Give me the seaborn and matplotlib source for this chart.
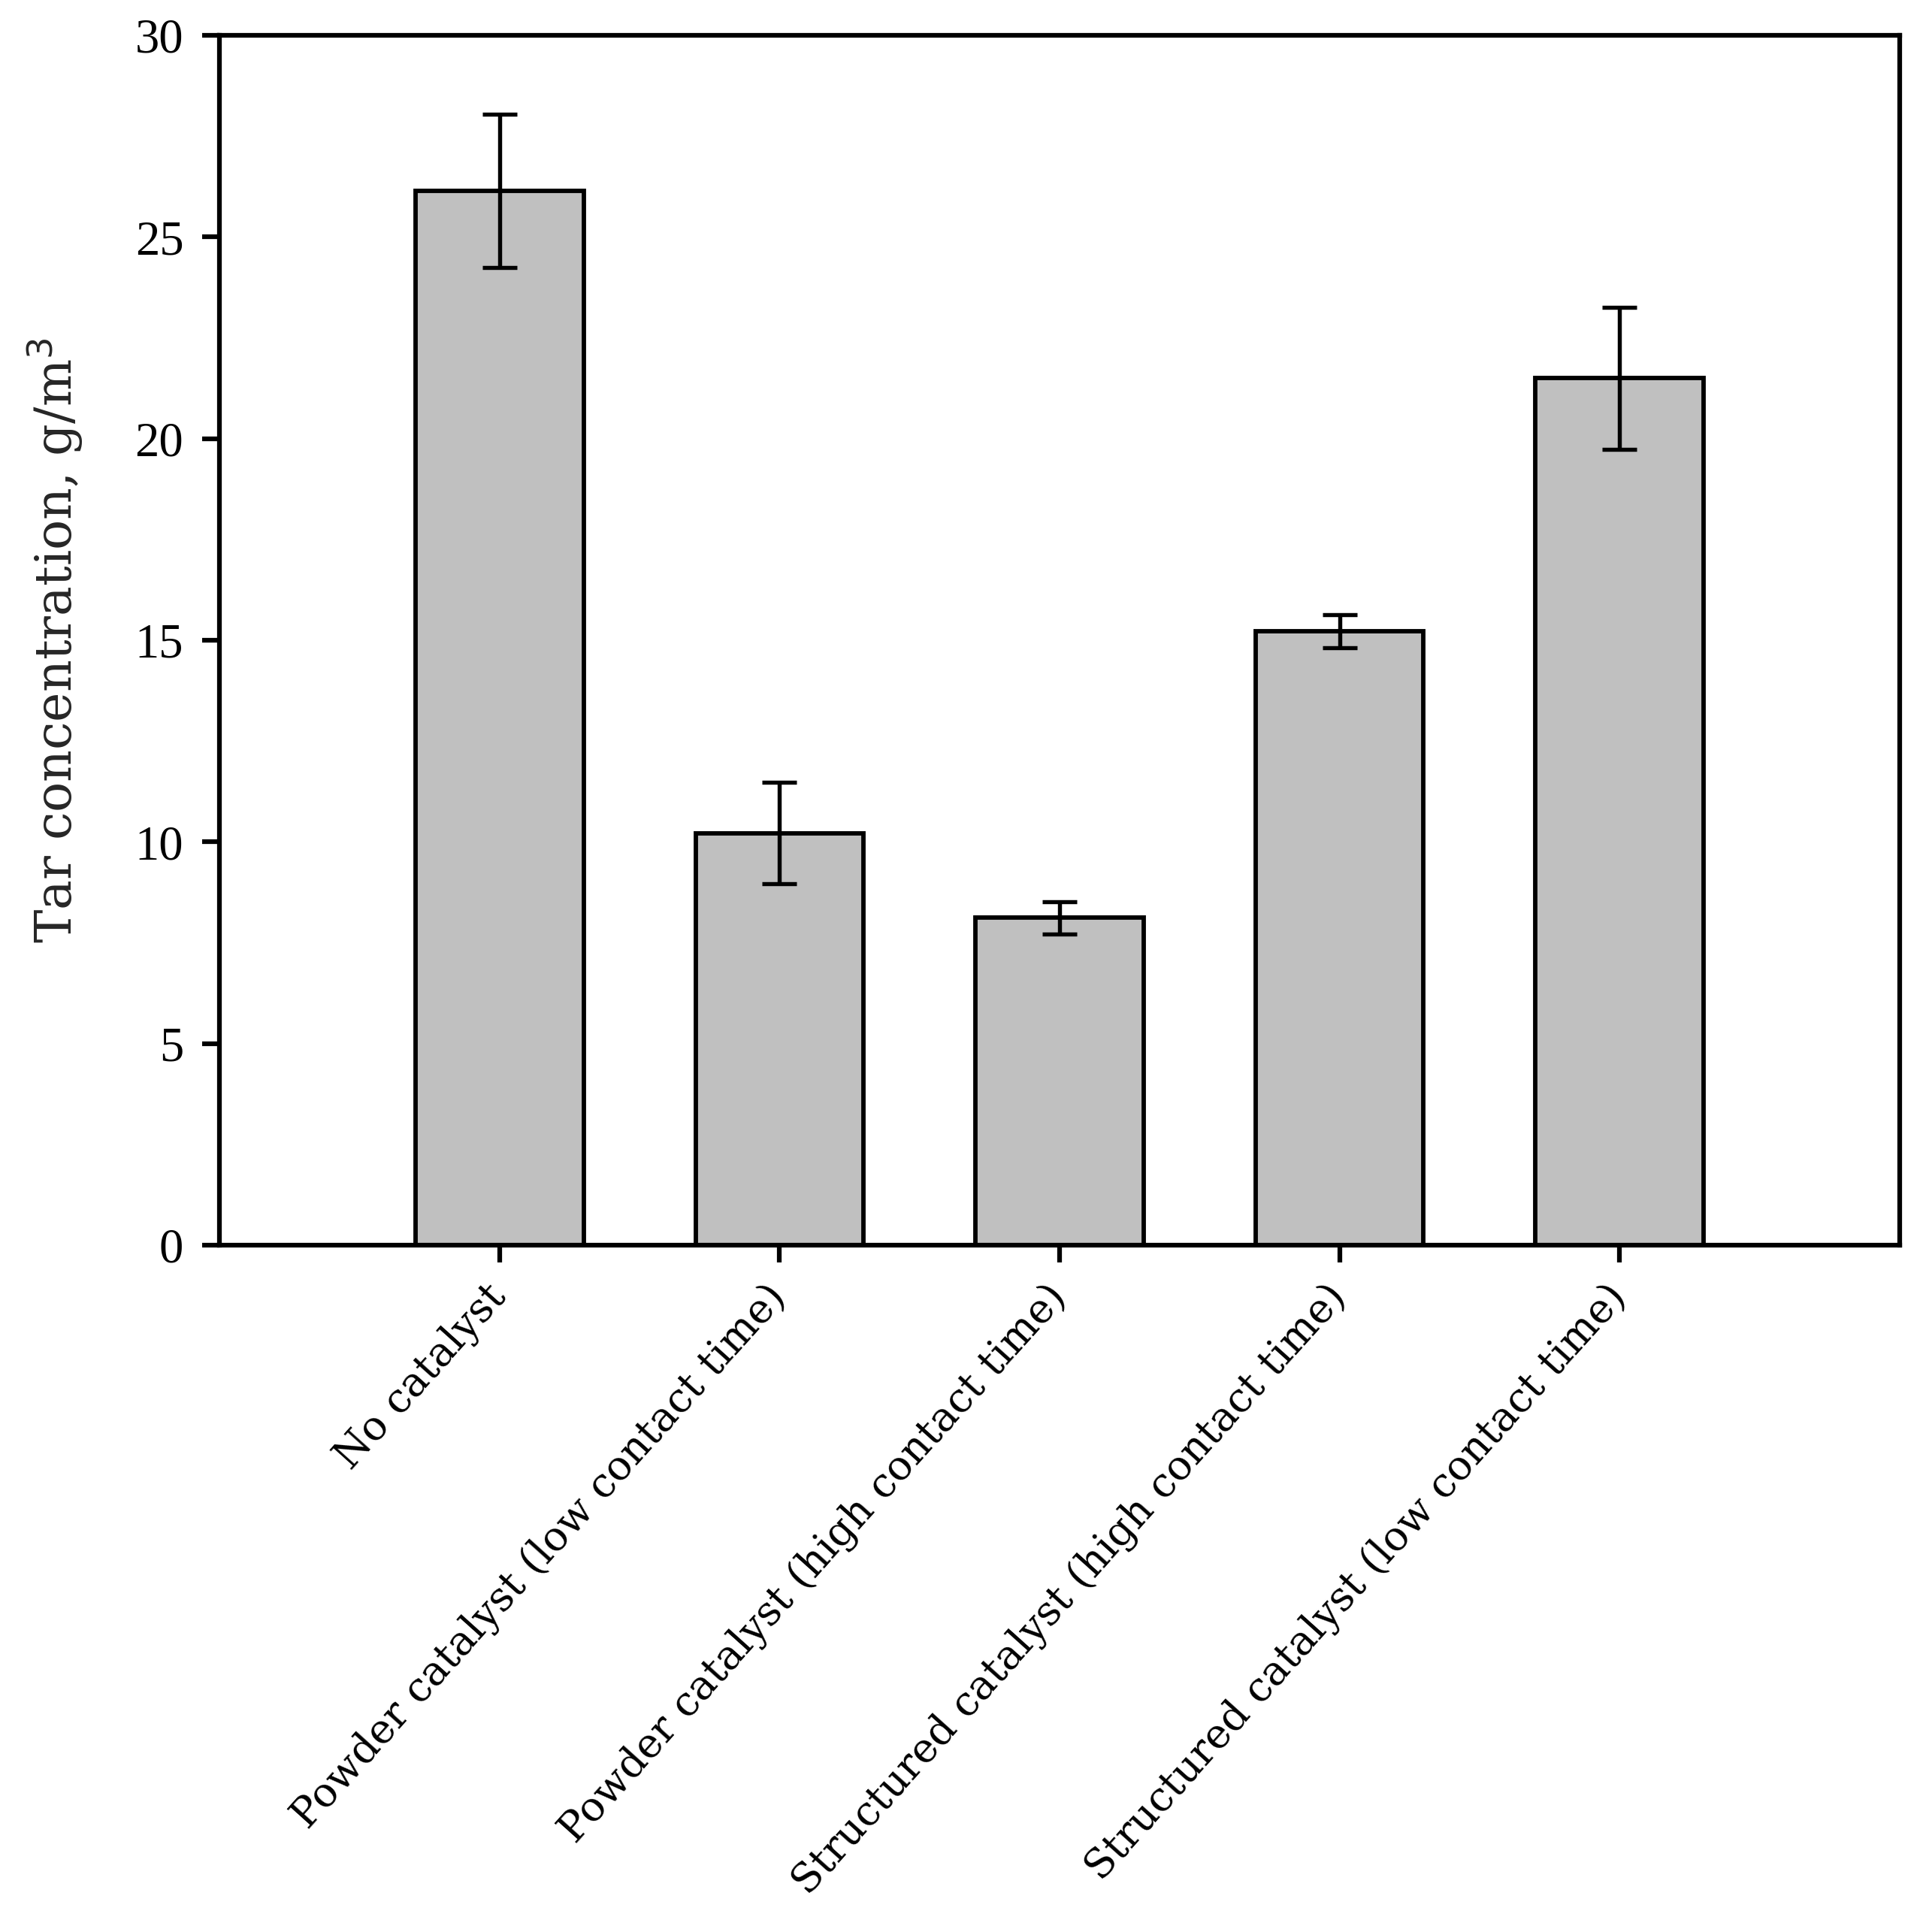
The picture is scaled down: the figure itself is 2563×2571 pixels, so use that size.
import matplotlib
matplotlib.use("Agg")
import matplotlib.pyplot as plt
import seaborn as sns
import numpy as np

categories = [
    "No catalyst",
    "Powder catalyst (low contact time)",
    "Powder catalyst (high contact time)",
    "Structured catalyst (high contact time)",
    "Structured catalyst (low contact time)",
]
tar_values = [26.15, 10.22, 8.12, 15.22, 21.5]
tar_errors = [1.9, 1.25, 0.4, 0.41, 1.76]
y_ticks = [0, 5, 10, 15, 20, 25, 30]

sns.set_style("ticks")
plt.rcParams["font.family"] = ["DejaVu Serif"]

DPI = 300
fig = plt.figure(figsize=(2563 / DPI, 2571 / DPI), dpi=DPI)
ax = fig.add_axes([0.114, 0.3555, 0.9863 - 0.114, 0.9817 - 0.3555])

sns.barplot(x=categories, y=tar_values, color="#c0c0c0", saturation=1,
            edgecolor="black", linewidth=1.4, width=0.6, ax=ax, zorder=2)
ax.errorbar(np.arange(len(categories)), tar_values, yerr=tar_errors,
            fmt="none", ecolor="black", elinewidth=1.3, capsize=5.5,
            capthick=1.3, zorder=3)

ax.set_xlim(-1, 5)
ax.set_ylim(0, 30)
ax.set_yticks(y_ticks)
ax.set_yticklabels([str(t) for t in y_ticks], fontfamily="Liberation Serif",
                   fontsize=15.5)
ax.set_xticks(range(len(categories)))
ax.set_xticklabels(categories, rotation=48, ha="right", va="center",
                   rotation_mode="anchor", fontsize=13)
for s in ax.spines.values():
    s.set_visible(True)
    s.set_linewidth(1.5)
    s.set_color("black")
ax.tick_params(axis="both", direction="out", length=5.5, width=1.5,
               colors="black", top=False, right=False)
ax.tick_params(axis="x", pad=9)
ax.tick_params(axis="y", pad=6)
ax.set_xlabel("")
ax.set_ylabel("Tar concentration, g/m$^3$", fontsize=16, labelpad=16)

fig.savefig("out.png", dpi=DPI)
